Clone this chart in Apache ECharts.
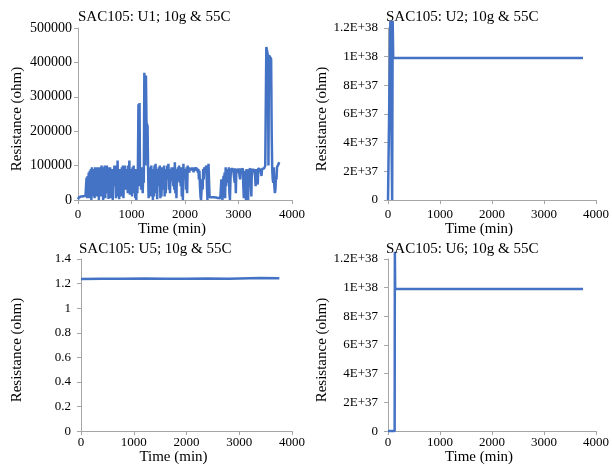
<!DOCTYPE html>
<html>
<head>
<meta charset="utf-8">
<script src="https://cdn.jsdelivr.net/npm/echarts@6/dist/echarts.min.js"></script>
<style>
html,body{margin:0;padding:0;background:#fff;}
#chart{width:612px;height:466px;}
</style>
</head>
<body>
<div id="chart"></div>
<script>
// ---- data ----
var titles = ['SAC105: U1; 10g & 55C', 'SAC105: U2; 10g & 55C', 'SAC105: U5; 10g & 55C', 'SAC105: U6; 10g & 55C'];
var xName = 'Time (min)';
var yName = 'Resistance (ohm)';

var u1Time = [
  0,10,20,30,40,50,60,70,80,90,100,110,120,130,140,150,160,170,180,190,
  200,210,220,230,240,250,260,270,280,290,300,310,320,330,340,350,360,370,380,390,
  400,410,420,430,440,450,460,470,480,490,500,510,520,530,540,550,560,570,580,590,
  600,610,620,630,640,650,660,670,680,690,700,710,720,730,740,750,760,770,780,790,
  800,810,820,830,840,850,860,870,880,890,900,910,920,930,940,950,960,970,980,990,
  1000,1010,1020,1030,1040,1050,1060,1070,1080,1090,1100,1110,1120,1130,1140,1150,1160,1170,1180,1190,
  1200,1210,1220,1230,1240,1250,1260,1270,1280,1290,1300,1310,1320,1330,1340,1350,1360,1370,1380,1390,
  1400,1410,1420,1430,1440,1450,1460,1470,1480,1490,1500,1510,1520,1530,1540,1550,1560,1570,1580,1590,
  1600,1610,1620,1630,1640,1650,1660,1670,1680,1690,1700,1710,1720,1730,1740,1750,1760,1770,1780,1790,
  1800,1810,1820,1830,1840,1850,1860,1870,1880,1890,1900,1910,1920,1930,1940,1950,1960,1970,1980,1990,
  2000,2010,2020,2030,2040,2050,2060,2070,2080,2090,2100,2110,2120,2130,2140,2150,2160,2170,2180,2190,
  2200,2210,2220,2230,2240,2250,2260,2270,2280,2290,2300,2310,2320,2330,2340,2350,2360,2370,2380,2390,
  2400,2410,2420,2430,2440,2450,2460,2470,2480,2490,2500,2510,2520,2530,2540,2550,2560,2570,2580,2590,
  2600,2610,2620,2630,2640,2650,2660,2670,2680,2690,2700,2710,2720,2730,2740,2750,2760,2770,2780,2790,
  2800,2810,2820,2830,2840,2850,2860,2870,2880,2890,2900,2910,2920,2930,2940,2950,2960,2970,2980,2990,
  3000,3010,3020,3030,3040,3050,3060,3070,3080,3090,3100,3110,3120,3130,3140,3150,3160,3170,3180,3190,
  3200,3210,3220,3230,3240,3250,3260,3270,3280,3290,3300,3310,3320,3330,3340,3350,3360,3370,3380,3390,
  3400,3410,3420,3430,3440,3450,3460,3470,3480,3490,3500,3510,3520,3530,3540,3550,3560,3570,3580,3590,
  3600,3610,3620,3630,3640,3650,3660,3670,3680,3690,3700,3710,3720,3730,3740,3750,3760
];
var u1Res = [
  2000,5000,8000,9000,9000,10000,10000,9000,10000,11000,11000,10000,10000,9000,12000,10000,65000,5000,70000,10000,
  80000,5000,85000,20000,90000,0,95000,10000,90000,30000,85000,5000,95000,40000,90000,10000,95000,20000,85000,0,
  95000,30000,75000,10000,100000,50000,95000,0,90000,40000,100000,5000,95000,60000,100000,20000,90000,3000,95000,50000,
  95000,5000,90000,30000,85000,0,90000,40000,100000,70000,100000,5000,95000,10000,115000,30000,80000,2000,90000,60000,
  90000,10000,95000,40000,100000,5000,90000,50000,100000,30000,85000,60000,90000,20000,100000,40000,115000,15000,85000,50000,
  90000,10000,95000,50000,100000,20000,90000,5000,90000,0,85000,20000,95000,278000,100000,282000,40000,90000,30000,95000,
  100000,20000,90000,50000,370000,365000,100000,362000,225000,220000,215000,90000,5000,95000,20000,90000,10000,100000,30000,90000,
  0,85000,10000,100000,30000,105000,20000,85000,2000,90000,40000,95000,60000,100000,5000,95000,10000,80000,30000,95000,
  40000,100000,10000,90000,20000,85000,60000,100000,70000,105000,30000,85000,20000,90000,60000,95000,55000,90000,40000,95000,
  30000,110000,20000,90000,5000,85000,60000,95000,55000,100000,50000,95000,40000,90000,10000,95000,0,105000,60000,90000,
  60000,90000,30000,95000,20000,100000,85000,95000,80000,90000,85000,95000,88000,92000,85000,95000,80000,95000,85000,95000,
  88000,95000,85000,92000,80000,90000,60000,85000,40000,10000,0,5000,60000,30000,90000,60000,95000,85000,92000,95000,
  100000,40000,0,80000,105000,50000,8000,7000,6000,7000,8000,7000,7000,8000,8000,7000,6000,7000,7000,6000,
  8000,7000,6000,7000,7000,6000,5000,6000,60000,30000,0,40000,70000,20000,80000,5000,95000,40000,90000,60000,
  90000,50000,95000,20000,0,60000,90000,85000,92000,88000,90000,85000,90000,50000,92000,20000,90000,85000,92000,80000,
  92000,88000,90000,60000,92000,85000,90000,88000,92000,40000,5000,85000,90000,30000,0,90000,95000,20000,0,85000,
  90000,85000,92000,50000,10000,88000,92000,85000,90000,88000,92000,70000,40000,90000,92000,60000,45000,92000,88000,90000,
  95000,88000,92000,70000,90000,85000,95000,88000,92000,90000,100000,95000,445000,448000,440000,420000,100000,420000,425000,422000,
  415000,410000,200000,90000,60000,50000,95000,40000,20000,30000,70000,60000,95000,90000,100000,105000,110000
];

var u2Time = [0, 35, 45, 80, 90, 100, 3750];
var u2Res  = [0, 0, 1.25e38, 0, 1.25e38, 9.9e37, 9.9e37];

var u5Time = [0, 400, 800, 1200, 1600, 2000, 2400, 2800, 3200, 3400, 3760];
var u5Res  = [1.238, 1.240, 1.240, 1.241, 1.240, 1.240, 1.241, 1.240, 1.244, 1.245, 1.243];

var u6Time = [0, 128, 132, 138, 3750];
var u6Res  = [0, 0, 1.25e38, 9.9e37, 9.9e37];

// ---- chart ----
var SERIF = 'Liberation Serif';
var AX = '#a6a6a6';
var BLUE = '#4472C4';

function pairs(t, v) { return t.map(function (x, i) { return [x, v[i]]; }); }

function expFmt(v) {
  var n = Math.round(v / 1e37);
  if (n === 0) return '0';
  if (n >= 10) { var m = n / 10; return m + 'E+38'; }
  return n + 'E+37';
}

var grids = [
  {left: 78, top: 28, width: 214, height: 172},
  {left: 388, top: 28, width: 211, height: 172},
  {left: 81, top: 259, width: 211, height: 173},
  {left: 388, top: 259, width: 211, height: 173}
];
var titlePos = [[78, 10], [386, 10], [79, 242], [386, 242]];
var yGap = [53, 57, 56, 57];
var xLabelMargin = [8, 8, 5, 5];
var yLabelMargin = [6, 10, 10, 10];
var yLabelSize = [14, 13, 13, 13];

var yCfg = [
  {min: 0, max: 500000, interval: 100000, fmt: function (v) { return String(v); }},
  {min: 0, max: 1.2e38, interval: 2e37, fmt: expFmt},
  {min: 0, max: 1.4, interval: 0.2, fmt: function (v) { return String(Math.round(v * 10) / 10); }},
  {min: 0, max: 1.2e38, interval: 2e37, fmt: expFmt}
];
var seriesData = [pairs(u1Time, u1Res), pairs(u2Time, u2Res), pairs(u5Time, u5Res), pairs(u6Time, u6Res)];

var option = {
  backgroundColor: '#fff',
  animation: false,
  title: titles.map(function (t, i) {
    return {text: t, left: titlePos[i][0], top: titlePos[i][1], padding: 0,
      textStyle: {fontFamily: SERIF, fontSize: 15, fontWeight: 'normal', color: '#000'}};
  }),
  grid: grids,
  xAxis: grids.map(function (g, i) {
    return {
      type: 'value', gridIndex: i, min: 0, max: 4000, interval: 1000,
      name: xName, nameLocation: 'middle', nameGap: 18,
      nameTextStyle: {fontFamily: SERIF, fontSize: 15, color: '#000', padding: [0, 26, 0, 0]},
      axisLine: {show: true, onZero: false, lineStyle: {color: AX, width: 1}},
      axisTick: {show: true, length: 4, lineStyle: {color: AX}},
      axisLabel: {fontFamily: SERIF, fontSize: 13, color: '#000', margin: xLabelMargin[i],
        formatter: function (v) { return String(v); }},
      splitLine: {show: false}
    };
  }),
  yAxis: grids.map(function (g, i) {
    return {
      type: 'value', gridIndex: i, min: yCfg[i].min, max: yCfg[i].max, interval: yCfg[i].interval,
      name: yName, nameLocation: 'middle', nameRotate: 90, nameGap: yGap[i],
      nameTextStyle: {fontFamily: SERIF, fontSize: 15, color: '#000', padding: [0, 10, 0, 0]},
      axisLine: {show: true, lineStyle: {color: AX, width: 1}},
      axisTick: {show: true, length: 4, lineStyle: {color: AX}},
      axisLabel: {fontFamily: SERIF, fontSize: yLabelSize[i], color: '#000', margin: yLabelMargin[i], formatter: yCfg[i].fmt},
      splitLine: {show: false}
    };
  }),
  series: seriesData.map(function (d, i) {
    return {
      type: 'line', xAxisIndex: i, yAxisIndex: i, data: d,
      showSymbol: false, symbol: 'none', sampling: null, clip: i === 0 || i === 2,
      lineStyle: {color: BLUE, width: 2.5}
    };
  })
};

var chart = echarts.init(document.getElementById('chart'), null, {renderer: 'canvas'});
chart.setOption(option);
</script>
</body>
</html>
